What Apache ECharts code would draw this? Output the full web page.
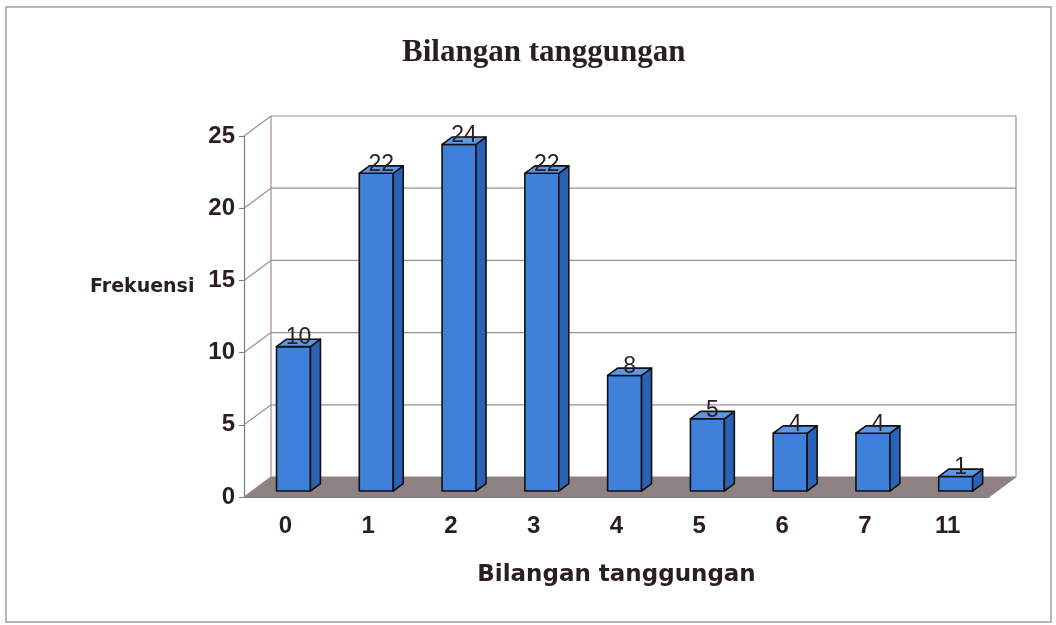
<!DOCTYPE html>
<html>
<head>
<meta charset="utf-8">
<script src="https://cdn.jsdelivr.net/npm/echarts@6/dist/echarts.min.js"></script>
<style>
  html, body { margin: 0; padding: 0; background: #fff; }
  #chart { width: 1056px; height: 625px; }
</style>
</head>
<body>
<div id="chart"></div>
<script>
// data
var categories = ['0', '1', '2', '3', '4', '5', '6', '7', '11'];
var frekuensi = [10, 22, 24, 22, 8, 5, 4, 4, 1];
var yTicks = [0, 5, 10, 15, 20, 25];

// 3d look (depth of the box, in px)
var DX = 27, DY = -20;
var textColor = '#2a1e22';
var gridColor = '#a08c96';

var myChart = echarts.init(document.getElementById('chart'));

function renderWalls(params, api) {
    if (params.dataIndex !== 0) return null;
    var cs = params.coordSys;
    var x = cs.x, y = cs.y, w = cs.width, h = cs.height;
    var kids = [];
    // floor
    kids.push({
        type: 'polygon',
        shape: { points: [[x, y + h], [x + w, y + h], [x + w + DX, y + h + DY], [x + DX, y + h + DY]] },
        style: { fill: '#8d8181', stroke: '#8d8181' }
    });
    // back wall edges
    kids.push({ type: 'line', shape: { x1: x + DX, y1: y + DY, x2: x + DX, y2: y + h + DY }, style: { stroke: gridColor, lineWidth: 1.2 } });
    kids.push({ type: 'line', shape: { x1: x + w + DX, y1: y + DY, x2: x + w + DX, y2: y + h + DY }, style: { stroke: gridColor, lineWidth: 1.2 } });
    // grid lines on left and back wall
    yTicks.forEach(function (t) {
        var py = api.coord([0, t])[1];
        kids.push({ type: 'line', shape: { x1: x, y1: py, x2: x + DX, y2: py + DY }, style: { stroke: gridColor, lineWidth: 1.2 } });
        if (t > 0) {
            kids.push({ type: 'line', shape: { x1: x + DX, y1: py + DY, x2: x + w + DX, y2: py + DY }, style: { stroke: gridColor, lineWidth: 1.2 } });
        }
    });
    return { type: 'group', children: kids };
}

function renderBar(params, api) {
    var i = api.value(0);
    var v = api.value(1);
    var top = api.coord([i, v]);
    var base = api.coord([i, 0]);
    var bw = api.size([1, 0])[0] * 0.41;
    var offx = DX * 0.3, offy = DY * 0.3;
    var ddx = DX * 0.37, ddy = DY * 0.37;
    var x0 = top[0] - bw / 2 + offx;
    var ty = top[1] + offy, by = base[1] + offy;
    var line = { stroke: '#111', lineWidth: 1.6, lineJoin: 'round' };
    return {
        type: 'group',
        children: [
            {
                type: 'rect',
                shape: { x: x0, y: ty, width: bw, height: by - ty },
                style: Object.assign({ fill: '#3f80da' }, line)
            },
            {
                type: 'polygon',
                shape: { points: [[x0 + bw, ty], [x0 + bw + ddx, ty + ddy], [x0 + bw + ddx, by + ddy], [x0 + bw, by]] },
                style: Object.assign({ fill: '#2a62b6' }, line)
            },
            {
                type: 'polygon',
                shape: { points: [[x0, ty], [x0 + ddx, ty + ddy], [x0 + bw + ddx, ty + ddy], [x0 + bw, ty]] },
                style: Object.assign({ fill: '#5b97e4' }, line)
            },
            {
                type: 'text',
                x: x0 + bw / 2 + ddx / 2,
                y: ty + 3,
                style: {
                    text: String(v),
                    fill: textColor,
                    font: '23px Arial, "Liberation Sans"',
                    align: 'center',
                    verticalAlign: 'bottom'
                }
            }
        ]
    };
}

var option = {
    backgroundColor: '#fff',
    animation: false,
    title: [{
        text: 'Bilangan tanggungan',
        left: 397,
        top: 32,
        textStyle: {
            color: textColor,
            fontFamily: '"Times New Roman", "Liberation Serif", serif',
            fontWeight: 'bold',
            fontSize: 31
        }
    }, {
        text: 'Frekuensi',
        left: 85,
        top: 273,
        textStyle: {
            color: textColor,
            fontFamily: '"DejaVu Sans", Arial',
            fontWeight: 'bold',
            fontSize: 19
        }
    }],
    graphic: [{
        type: 'rect',
        shape: { x: 6, y: 7, width: 1045, height: 615 },
        style: { fill: null, stroke: '#a0a0a0', lineWidth: 1.5 },
        silent: true
    }],
    grid: { left: 244, right: 67, top: 136, bottom: 128 },
    xAxis: {
        type: 'category',
        data: categories,
        name: 'Bilangan tanggungan',
        nameLocation: 'middle',
        nameGap: 67,
        nameTextStyle: {
            color: textColor,
            fontFamily: '"DejaVu Sans", Arial',
            fontWeight: 'bold',
            fontSize: 23
        },
        axisLine: { lineStyle: { color: '#7a7a7a', width: 1.2 } },
        axisTick: { length: 8, lineStyle: { color: '#7a7a7a' } },
        axisLabel: {
            margin: 17,
            color: textColor,
            fontFamily: 'Arial, "Liberation Sans"',
            fontWeight: 'bold',
            fontSize: 24
        }
    },
    yAxis: {
        type: 'value',
        min: 0,
        max: 25,
        interval: 5,
        axisLine: { show: true, lineStyle: { color: '#7a7a7a', width: 1.2 } },
        axisTick: { show: true, length: 5, lineStyle: { color: '#7a7a7a' } },
        splitLine: { show: false },
        axisLabel: {
            margin: 9,
            color: textColor,
            fontFamily: 'Arial, "Liberation Sans"',
            fontWeight: 'bold',
            fontSize: 24
        }
    },
    series: [
        {
            type: 'custom',
            name: 'walls',
            renderItem: renderWalls,
            data: [[0, 0]],
            z: 1,
            silent: true
        },
        {
            type: 'custom',
            name: 'Frekuensi',
            renderItem: renderBar,
            data: frekuensi.map(function (v, i) { return [i, v]; }),
            z: 2
        }
    ]
};

myChart.setOption(option);
</script>
</body>
</html>
